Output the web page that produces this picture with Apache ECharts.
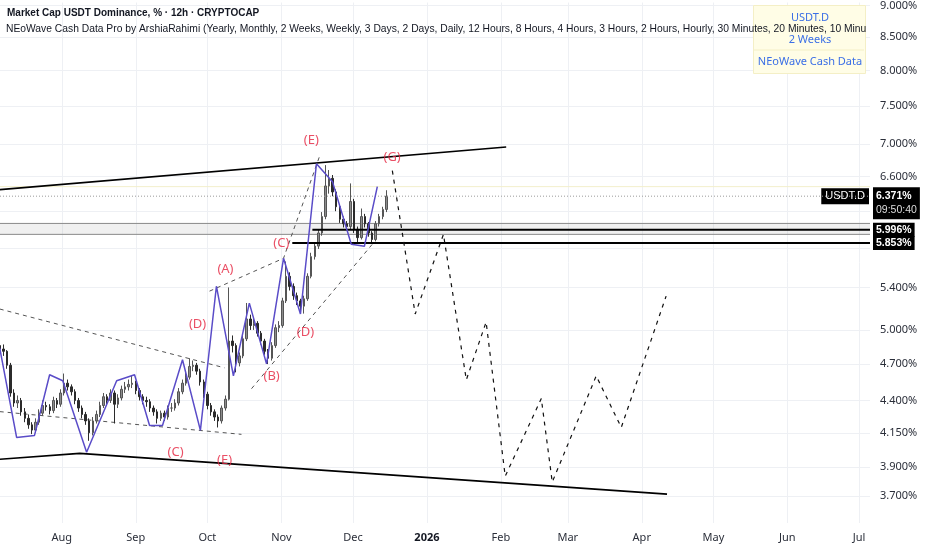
<!DOCTYPE html>
<html><head><meta charset="utf-8">
<script src="https://cdn.jsdelivr.net/npm/echarts@6/dist/echarts.min.js"></script>
<style>html,body{margin:0;padding:0;background:#fff}#c{width:932px;height:550px}</style>
</head><body><div id="c"></div>
<script>
const FONT = '"Noto Sans", "Open Sans", sans-serif';
const HFONT = '"Liberation Sans", Arial, sans-serif';

// ---------- data ----------
const titleText = 'Market Cap USDT Dominance, % · 12h · CRYPTOCAP';
const subtitleText = 'NEoWave Cash Data Pro by ArshiaRahimi (Yearly, Monthly, 2 Weeks, Weekly, 3 Days, 2 Days, Daily, 12 Hours, 8 Hours, 4 Hours, 3 Hours, 2 Hours, Hourly, 30 Minutes, 20 Minutes, 10 Minutes)';
const legendLines = ['USDT.D', '2 Weeks', 'NEoWave Cash Data'];

const xRange = ['2025-07-06 03:00', '2026-07-05 15:00'];
const monthTicks = ['2025-08-01','2025-09-01','2025-10-01','2025-11-01','2025-12-01','2026-01-01','2026-02-01','2026-03-01','2026-04-01','2026-05-01','2026-06-01','2026-07-01'];
const monthLabels = ['Aug','Sep','Oct','Nov','Dec','2026','Feb','Mar','Apr','May','Jun','Jul'];
const priceTicks = [3.7, 3.9, 4.15, 4.4, 4.7, 5.0, 5.4, 5.8, 6.2, 6.6, 7.0, 7.5, 8.0, 8.5, 9.0];
const hiddenPriceTicks = [5.8, 6.2];
const yRange = [3.524, 9.049];

// candles: 36h bars from start, [open, close, low, high]
const candleStart = '2025-07-06 00:00';
const candleStepHours = 36;
const candles = [
[4.86,4.83,4.80,4.89],[4.83,4.81,4.77,4.87],[4.81,4.69,4.66,4.82],[4.69,4.46,4.43,4.71],[4.46,4.38,4.35,4.49],
[4.38,4.40,4.34,4.44],[4.40,4.31,4.28,4.42],[4.31,4.26,4.23,4.34],[4.26,4.21,4.18,4.29],[4.21,4.17,4.14,4.23],
[4.17,4.23,4.15,4.26],[4.23,4.30,4.21,4.33],[4.30,4.36,4.28,4.40],[4.36,4.35,4.32,4.39],[4.35,4.32,4.29,4.37],
[4.32,4.40,4.30,4.43],[4.40,4.37,4.34,4.42],[4.37,4.46,4.35,4.49],[4.46,4.54,4.44,4.62],[4.54,4.51,4.48,4.57],
[4.51,4.47,4.44,4.53],[4.47,4.40,4.37,4.49],[4.40,4.34,4.31,4.42],[4.34,4.29,4.26,4.36],[4.29,4.24,4.21,4.31],
[4.24,4.15,4.09,4.26],[4.15,4.24,4.13,4.27],[4.24,4.29,4.22,4.32],[4.29,4.36,4.27,4.39],[4.36,4.43,4.34,4.46],
[4.43,4.40,4.37,4.45],[4.40,4.46,4.38,4.49],[4.46,4.37,4.22,4.48],[4.37,4.42,4.34,4.45],[4.42,4.49,4.40,4.52],
[4.49,4.51,4.46,4.55],[4.51,4.53,4.48,4.57],[4.53,4.54,4.50,4.60],[4.54,4.48,4.45,4.56],[4.48,4.43,4.40,4.50],
[4.43,4.40,4.37,4.45],[4.40,4.39,4.35,4.43],[4.39,4.34,4.31,4.41],[4.34,4.31,4.28,4.36],[4.31,4.26,4.22,4.33],
[4.26,4.30,4.24,4.32],[4.30,4.27,4.24,4.32],[4.27,4.34,4.25,4.36],[4.34,4.34,4.31,4.38],[4.34,4.38,4.32,4.41],
[4.38,4.47,4.36,4.50],[4.47,4.54,4.45,4.57],[4.54,4.59,4.52,4.63],[4.59,4.68,4.57,4.75],[4.68,4.69,4.64,4.73],
[4.69,4.64,4.61,4.71],[4.64,4.55,4.52,4.66],[4.55,4.45,4.42,4.57],[4.45,4.36,4.33,4.47],[4.36,4.31,4.28,4.38],
[4.31,4.27,4.24,4.33],[4.27,4.24,4.19,4.29],[4.24,4.34,4.22,4.36],[4.34,4.41,4.32,4.44],[4.41,4.90,4.40,5.40],
[4.90,4.86,4.80,4.95],[4.86,4.71,4.63,4.88],[4.71,4.77,4.68,4.80],[4.77,4.92,4.75,4.96],[4.92,5.10,4.90,5.25],
[5.10,5.04,5.00,5.14],[5.04,5.06,5.00,5.10],[5.06,4.97,4.94,5.08],[4.97,4.90,4.87,4.99],[4.90,4.81,4.78,4.92],
[4.81,4.75,4.70,4.83],[4.75,4.86,4.73,4.89],[4.86,5.02,4.84,5.05],[5.02,5.04,4.98,5.08],[5.04,5.27,5.02,5.30],
[5.27,5.51,5.25,5.66],[5.51,5.41,5.37,5.55],[5.41,5.32,5.28,5.44],[5.32,5.27,5.23,5.35],[5.27,5.22,5.18,5.29],
[5.22,5.29,5.15,5.32],[5.29,5.51,5.27,5.54],[5.51,5.71,5.49,5.75],[5.71,5.82,5.68,5.86],[5.82,5.96,5.79,6.00],
[5.96,6.14,5.93,6.19],[6.14,6.49,6.11,6.74],[6.49,6.58,6.40,6.68],[6.58,6.42,6.37,6.62],[6.42,6.25,6.20,6.45],
[6.25,6.11,6.07,6.28],[6.11,6.06,6.02,6.14],[6.06,6.03,5.99,6.09],[6.03,6.31,6.00,6.52],[6.31,6.00,5.96,6.34],
[6.00,5.91,5.85,6.03],[5.91,6.14,5.89,6.23],[6.14,6.06,6.02,6.17],[6.06,5.96,5.92,6.08],[5.96,5.89,5.85,5.98],
[5.89,6.06,5.87,6.09],[6.06,6.14,6.03,6.17],[6.14,6.22,6.11,6.25],[6.22,6.371,6.19,6.44]
];

// NEoWave wave path (purple)
const waveDates = ['2025-07-06 00:00','2025-07-13 02:00','2025-07-20 14:00','2025-07-26 22:00','2025-08-01 10:00','2025-08-11 10:00','2025-08-24 00:00','2025-08-31 12:00','2025-09-06 19:00','2025-09-12 05:00','2025-09-20 14:00','2025-09-28 02:00','2025-10-04 19:00','2025-10-11 22:00','2025-10-18 14:00','2025-10-25 19:00','2025-11-01 22:00','2025-11-09 00:00','2025-11-15 17:00','2025-11-22 10:00','2025-11-30 07:00','2025-12-05 19:00','2025-12-11 05:00'];
const waveValues = [4.84,4.115,4.13,4.61,4.56,4.006,4.56,4.61,4.205,4.205,4.737,4.168,5.412,4.60,5.249,4.702,5.693,5.146,6.756,6.541,5.839,5.818,6.482];

// projected path (black dashed)
const projDates = ['2025-12-17 12:00','2025-12-27 02:00','2026-01-07 22:00','2026-01-17 12:00','2026-01-25 19:00','2026-02-02 19:00','2026-02-17 22:00','2026-02-22 12:00','2026-03-12 22:00','2026-03-23 10:00','2026-04-11 05:00'];
const projValues = [6.672,5.146,5.945,4.568,5.072,3.836,4.415,3.795,4.60,4.19,5.316];

// solid trend lines
const upperTrendDates = ['2025-07-06 00:00','2026-02-03 05:00'];
const upperTrendValues = [6.447,6.965];
const lowerTrendDates = ['2025-07-06 00:00','2025-08-08 12:00','2026-04-11 14:00'];
const lowerTrendValues = [3.955,3.998,3.713];

// grey dashed guide lines
const guideA_dates = ['2025-07-06 00:00','2025-10-08 05:00'];
const guideA_values = [5.193,4.668];
const guideB_dates = ['2025-07-06 00:00','2025-10-15 07:00'];
const guideB_values = [4.312,4.138];
const guideC_dates = ['2025-10-01 22:00','2025-11-01 22:00','2025-11-16 22:00'];
const guideC_values = [5.364,5.693,6.841];
const guideD_dates = ['2025-10-19 12:00','2025-12-09 02:00'];
const guideD_values = [4.495,5.839];

// horizontal levels
const zoneTop = 6.064, zoneBottom = 5.945;
const level1 = 5.996, level1Start = '2025-11-14 00:00';
const level2 = 5.853, level2Start = '2025-11-05 14:00';
const lastPrice = 6.371, countdown = '09:50:40', symbolName = 'USDT.D';
const faintLevel = 6.482;

// wave labels
const waveLabelNames = ['(E)','(G)','(C)','(A)','(D)','(D)','(B)','(C)','(E)'];
const waveLabelDates = ['2025-11-13 14:00','2025-12-17 10:00','2025-11-01 00:00','2025-10-08 14:00','2025-09-26 22:00','2025-11-11 02:00','2025-10-27 22:00','2025-09-17 17:00','2025-10-08 05:00'];
const waveLabelValues = [7.055,6.83,5.85,5.581,5.053,4.982,4.60,4.006,3.948];

// ---------- build ----------
function t(s){
  const [d,h] = s.split(' ');
  const [Y,M,D] = d.split('-').map(Number);
  let hh=0, mm=0;
  if (h){ [hh,mm] = h.split(':').map(Number); }
  return Date.UTC(Y, M-1, D, hh, mm);
}
const pairs = (ds, vs) => ds.map((d,i)=>[t(d), vs[i]]);
const xMin = t(xRange[0]), xMax = t(xRange[1]);
const c0 = t(candleStart);
const candleData = candles.map((c,i)=>[c0 + i*candleStepHours*3600e3, c[0], c[1], c[2], c[3]]);
const monthTs = monthTicks.map(t);

function lineSeries(name, data, style, extra){
  return Object.assign({
    name, type:'line', data, symbol:'none', silent:true, animation:false,
    lineStyle: style, z: 3
  }, extra||{});
}
const boxLabel = {backgroundColor:'#000', color:'#fff', fontSize:10.5, fontWeight:'bold', fontFamily:HFONT};

const chart = echarts.init(document.getElementById('c'), null, {renderer:'canvas'});
const option = {
  animation:false,
  textStyle:{fontFamily:FONT},
  grid:{left:0, right:62, top:0, bottom:27, containLabel:false},
  xAxis:{
    type:'value', min:xMin, max:xMax, scale:true,
    axisLine:{show:false}, axisTick:{show:false, customValues: monthTs},
    splitLine:{show:true, lineStyle:{color:'#eef0f4', width:1}},
    axisLabel:{
      customValues: monthTs, margin:9, color:'#2a2e39', fontSize:11, fontFamily:FONT,
      formatter: v => {
        let best=0, bd=Infinity;
        monthTs.forEach((m,i)=>{const d=Math.abs(m-v); if(d<bd){bd=d;best=i;}});
        const s = monthLabels[best];
        return /^\d{4}$/.test(s) ? '{y|'+s+'}' : s;
      },
      rich:{y:{fontWeight:'bold', fontSize:11, color:'#131722', fontFamily:FONT}}
    }
  },
  yAxis:{
    type:'log', logBase:10, position:'right', min:yRange[0], max:yRange[1],
    axisLine:{show:false}, axisTick:{show:false, customValues: priceTicks},
    splitLine:{show:true, lineStyle:{color:'#eef0f4', width:1}},
    axisLabel:{
      customValues: priceTicks, margin:10, color:'#2a2e39', fontSize:11, fontFamily:FONT, align:'left',
      formatter: v => hiddenPriceTicks.some(h=>Math.abs(h-v)<1e-6) ? '' : Number(v).toFixed(3)+'%'
    }
  },
  series:[
    lineSeries('zoneTop', [[xMin,zoneTop],[xMax,zoneTop]], {color:'#8a8a8a', width:1}, {
      markArea:{silent:true, itemStyle:{color:'rgba(140,140,140,0.13)'}, data:[[{yAxis:zoneTop},{yAxis:zoneBottom}]]}
    }),
    lineSeries('zoneBottom', [[xMin,zoneBottom],[xMax,zoneBottom]], {color:'#8a8a8a', width:1}),
    lineSeries('faint', [[xMin,faintLevel],[xMax,faintLevel]], {color:'#f3efcc', width:1}),
    lineSeries('last', [[xMin,lastPrice],[xMax,lastPrice]], {color:'#9a9a9a', width:1, type:[1,2]}, {
      z:6,
      markPoint:{silent:true, symbol:'rect', symbolSize:0,
        data:[{coord:[xMax,lastPrice], label:Object.assign({show:true, position:'left', distance:1, formatter:symbolName, padding:[3,4,2,4]}, boxLabel, {fontWeight:'normal', fontSize:11})}]},
      endLabel:{show:true, distance:3, offset:[0,7], backgroundColor:'#000', padding:[2,3,2,3],
        formatter: () => '{a|'+lastPrice.toFixed(3)+'%}\n{b|'+countdown+'}',
        rich:{a:{color:'#fff', fontSize:10.5, fontWeight:'bold', fontFamily:HFONT, lineHeight:14},
              b:{color:'#ddd', fontSize:10.5, fontFamily:HFONT, lineHeight:14}}}
    }),
    lineSeries('level1', [[t(level1Start),level1],[xMax,level1]], {color:'#000', width:2}, {
      z:5,
      endLabel:Object.assign({show:true, distance:3, padding:[2,3,1,3], formatter: () => level1.toFixed(3)+'%'}, boxLabel)
    }),
    lineSeries('level2', [[t(level2Start),level2],[xMax,level2]], {color:'#000', width:2}, {
      z:5,
      endLabel:Object.assign({show:true, distance:3, padding:[2,3,1,3], formatter: () => level2.toFixed(3)+'%'}, boxLabel)
    }),
    lineSeries('guideA', pairs(guideA_dates, guideA_values), {color:'#555', width:1, type:[4,4]}),
    lineSeries('guideB', pairs(guideB_dates, guideB_values), {color:'#555', width:1, type:[4,4]}),
    lineSeries('guideC', pairs(guideC_dates, guideC_values), {color:'#555', width:1, type:[4,4]}),
    lineSeries('guideD', pairs(guideD_dates, guideD_values), {color:'#555', width:1, type:[4,4]}),
    {
      name:'USDT.D', type:'candlestick', data:candleData, barWidth:2, silent:true, z:4,
      itemStyle:{color:'#8c8c8c', color0:'#2b2b2b', borderColor:'#555', borderColor0:'#2b2b2b', borderWidth:1}
    },
    lineSeries('upperTrend', pairs(upperTrendDates, upperTrendValues), {color:'#000', width:1.6}),
    lineSeries('lowerTrend', pairs(lowerTrendDates, lowerTrendValues), {color:'#000', width:1.6}),
    lineSeries('NEoWave', pairs(waveDates, waveValues), {color:'#5a4cc8', width:1.5}, {z:7}),
    lineSeries('projection', pairs(projDates, projValues), {color:'#111', width:1.2, type:[4,5]}, {z:7}),
    {
      name:'labels', type:'scatter', symbolSize:1, silent:true, z:8,
      itemStyle:{color:'rgba(0,0,0,0)'},
      data: waveLabelNames.map((n,i)=>({name:n, value:[t(waveLabelDates[i]), waveLabelValues[i]]})),
      label:{show:true, position:'inside', formatter: p => p.name, color:'#e5233f', fontSize:13, fontFamily:FONT}
    }
  ],
  graphic:[
    {type:'rect', left:753, top:5, shape:{width:112, height:68}, style:{fill:'#fffde6', stroke:'#f4efc6', lineWidth:1}, z:50},
    {type:'line', shape:{x1:754, y1:50, x2:864, y2:50}, style:{stroke:'#f4efc6', lineWidth:1}, z:51},
    {type:'text', x:810, y:18, style:{text:legendLines[0], fill:'#3b6fe6', font:'11px '+FONT, align:'center', verticalAlign:'middle'}, z:52},
    {type:'text', x:810, y:40, style:{text:legendLines[1], fill:'#3b6fe6', font:'11px '+FONT, align:'center', verticalAlign:'middle'}, z:52},
    {type:'text', x:810, y:62, style:{text:legendLines[2], fill:'#3b6fe6', font:'11px '+FONT, align:'center', verticalAlign:'middle'}, z:52},
    {type:'text', x:7, y:13, style:{text:titleText, fill:'#131722', font:'bold 10px '+HFONT, verticalAlign:'middle'}, z:60},
    {type:'text', x:6, y:29, style:{text:subtitleText, fill:'#131722', font:'10.3px '+HFONT, verticalAlign:'middle', width:866, overflow:'truncate', ellipsis:''}, z:60}
  ]
};
try { chart.setOption(option); } catch(e) { console.error('setOption failed: '+e.message+' '+e.stack); }
</script></body></html>
